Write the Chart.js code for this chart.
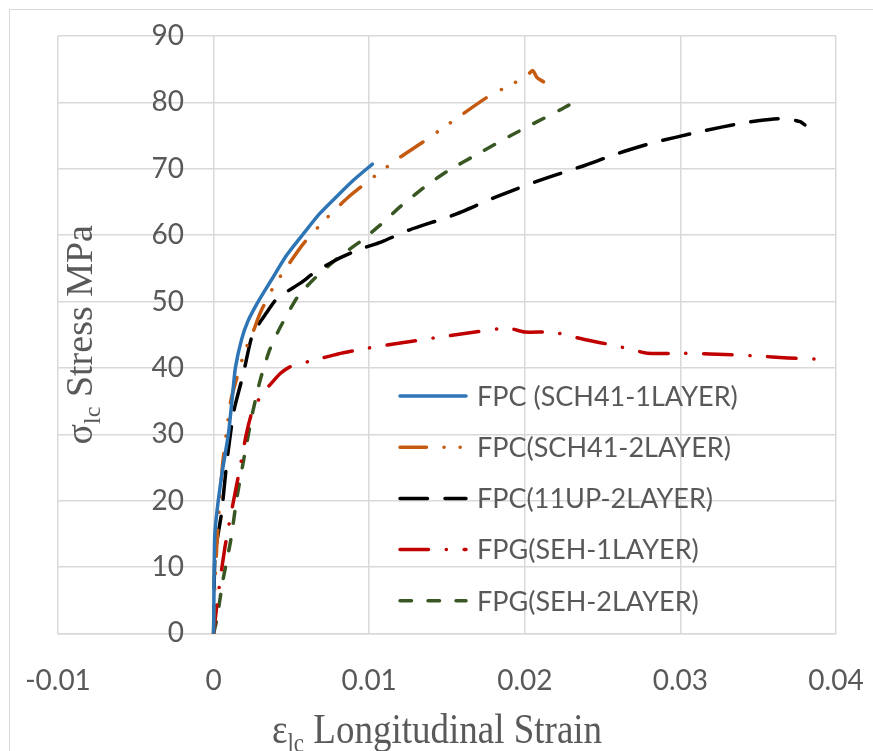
<!DOCTYPE html>
<html>
<head>
<meta charset="utf-8">
<script src="https://cdn.jsdelivr.net/npm/chart.js@4.4.0/dist/chart.umd.min.js"></script>
<style>
  html, body { margin: 0; padding: 0; background: #fff; }
  #wrap { position: relative; width: 873px; height: 751px; overflow: hidden; }
  #marco { position: absolute; left: 9px; top: 9px; width: 900px; height: 800px; border: 1px solid #d9d9d9; }
  canvas { position: absolute; left: 0; top: 0; }
</style>
</head>
<body>
<div id="wrap"><div id="marco"></div><canvas id="grafica" width="873" height="751"></canvas></div>
<script>
// Nombres de las series
const etiquetas = ['FPC (SCH41-1LAYER)', 'FPC(SCH41-2LAYER)', 'FPC(11UP-2LAYER)', 'FPG(SEH-1LAYER)', 'FPG(SEH-2LAYER)'];

// Deformación (x) y esfuerzo (y) por serie
const strain1 = [0, 0.00003, 0.00008, 0.0003, 0.0006, 0.00095, 0.0012, 0.0014, 0.0018, 0.0022, 0.0027, 0.0032, 0.0037, 0.0047, 0.0058, 0.0068, 0.0079, 0.009, 0.0102];
const stress1 = [0, 8, 15, 20, 25, 30, 35.5, 40, 44.3, 47, 49.3, 51.3, 53.2, 57, 60.3, 63.2, 65.8, 68.3, 70.7];

const strain2 = [0, 0.00005, 0.0002, 0.0004, 0.0006, 0.0011, 0.0015, 0.002, 0.0025, 0.003, 0.0038, 0.0047, 0.0058, 0.0072, 0.0086, 0.0102, 0.0119, 0.0135, 0.0152, 0.0176, 0.0193, 0.0201, 0.0205, 0.0208, 0.0212];
const stress2 = [0, 5, 13, 20, 26, 35, 38.5, 42.5, 45.2, 48.3, 52, 55.2, 58.8, 62.4, 65.6, 68.6, 71.6, 74.1, 76.9, 80.8, 82.9, 83.9, 84.8, 83.7, 83.1];

const strain3 = [0, 0.00003, 0.0001, 0.0005, 0.00086, 0.0013, 0.0019, 0.0025, 0.0034, 0.0041, 0.0056, 0.0065, 0.0079, 0.0093, 0.0108, 0.0126, 0.0154, 0.0182, 0.021, 0.0236, 0.0261, 0.0282, 0.0313, 0.034, 0.036, 0.0369, 0.0377, 0.038];
const stress3 = [0, 6, 12, 18, 26, 33.5, 39, 45, 48.3, 50.5, 52.8, 54.4, 56.3, 57.8, 59, 60.8, 63, 65.8, 68.3, 70.3, 72.4, 73.9, 75.6, 76.9, 77.5, 77.5, 77.1, 76.6];

const strain4 = [0, 0.0003, 0.00073, 0.0012, 0.0017, 0.0021, 0.0025, 0.003, 0.0035, 0.0043, 0.0051, 0.0062, 0.007, 0.008, 0.0095, 0.011, 0.013, 0.015, 0.0168, 0.0189, 0.02, 0.0218, 0.0229, 0.024, 0.0257, 0.0268, 0.0279, 0.03, 0.0319, 0.0349, 0.0369, 0.039];
const stress4 = [0, 6, 13, 19, 25, 30, 33.6, 35.6, 37.1, 39.2, 40.4, 41, 41.5, 42.1, 42.8, 43.4, 44.1, 44.8, 45.4, 46, 45.4, 45.4, 44.8, 44.2, 43.4, 42.8, 42.2, 42.2, 42.1, 41.8, 41.5, 41.3];

const strain5 = [0, 0.0002, 0.0006, 0.0011, 0.0015, 0.002, 0.0025, 0.003, 0.0036, 0.0043, 0.0054, 0.0065, 0.008, 0.0094, 0.0107, 0.012, 0.0137, 0.015, 0.0171, 0.0191, 0.0208, 0.0223, 0.0231, 0.0229];
const stress5 = [0, 2, 8, 14, 20.5, 27, 33.2, 38.2, 42.7, 46.2, 50.7, 53.5, 56.6, 59, 61.5, 64.3, 67.5, 69.6, 72.4, 75, 77.1, 78.9, 79.9, 79.2];

const colores = ['#2E75B6', '#C55A11', '#000000', '#C00000', '#385723'];
const trazos = [[], [26.5, 17.5, 0.1, 16, 0.1, 16.8], [27.5, 17.5], [28.5, 17.75, 0.1, 17.75], [11.5, 16.5]];

const puntos = (xs, ys) => xs.map((x, i) => ({ x: x, y: ys[i] }));
const series = [puntos(strain1, stress1), puntos(strain2, stress2), puntos(strain3, stress3), puntos(strain4, stress4), puntos(strain5, stress5)];

const GRIS = '#595959';
const REJILLA = '#d9d9d9';

// Leyenda dentro del área de la gráfica
const leyenda = {
    id: 'leyenda',
    afterDatasetsDraw(chart) {
        const ctx = chart.ctx;
        ctx.save();
        chart.data.datasets.forEach((ds, i) => {
            const y = 396 + i * 51.2;
            ctx.beginPath();
            ctx.setLineDash(ds.borderDash);
            ctx.lineCap = 'round';
            ctx.lineWidth = ds.borderWidth;
            ctx.strokeStyle = ds.borderColor;
            ctx.moveTo(400, y);
            ctx.lineTo(466, y);
            ctx.stroke();
            ctx.setLineDash([]);
            ctx.fillStyle = GRIS;
            ctx.font = '27px Lato';
            ctx.textBaseline = 'middle';
            ctx.textAlign = 'left';
            ctx.fillText(ds.label, 477, y + 1);
        });
        ctx.restore();
    }
};

// Texto con subíndice (símbolo + "lc" + resto)
function textoSub(ctx, simbolo, sub, resto, size) {
    const fMain = size + 'px "Liberation Serif"';
    const fSub = Math.round(size * 0.62) + 'px "Liberation Serif"';
    ctx.font = fMain;
    const w1 = ctx.measureText(simbolo).width;
    const w3 = ctx.measureText(resto).width;
    ctx.font = fSub;
    const w2 = ctx.measureText(sub).width;
    let x = -(w1 + w2 + w3) / 2;
    ctx.textAlign = 'left';
    ctx.textBaseline = 'alphabetic';
    ctx.font = fMain;
    ctx.fillText(simbolo, x, 0);
    x += w1;
    ctx.font = fSub;
    ctx.fillText(sub, x, size * 0.2);
    x += w2;
    ctx.font = fMain;
    ctx.fillText(resto, x, 0);
}

const titulos = {
    id: 'titulos',
    afterDraw(chart) {
        const { ctx, chartArea } = chart;
        ctx.save();
        ctx.fillStyle = GRIS;
        ctx.translate((chartArea.left + chartArea.right) / 2 - 10, 743);
        ctx.scale(1, 1.15);
        textoSub(ctx, 'ε', 'lc', ' Longitudinal Strain', 37);
        ctx.restore();

        ctx.save();
        ctx.fillStyle = GRIS;
        ctx.translate(92, (chartArea.top + chartArea.bottom) / 2);
        ctx.rotate(-Math.PI / 2);
        textoSub(ctx, 'σ', 'lc', ' Stress MPa', 38);
        ctx.restore();
    }
};

const ctx = document.getElementById('grafica').getContext('2d');

new Chart(ctx, {
    type: 'scatter',
    data: {
        datasets: series.map((d, i) => ({
            label: etiquetas[i],
            data: d,
            showLine: true,
            borderColor: colores[i],
            backgroundColor: colores[i],
            borderWidth: 3.5,
            borderDash: trazos[i],
            borderCapStyle: 'round',
            borderJoinStyle: 'round',
            pointRadius: 0,
            tension: 0.2,
            fill: false
        }))
    },
    options: {
        responsive: false,
        animation: false,
        devicePixelRatio: 1,
        layout: { padding: { left: 58, right: 37, top: 36, bottom: 53 } },
        plugins: {
            legend: { display: false },
            tooltip: { enabled: false },
            title: { display: false }
        },
        scales: {
            x: {
                type: 'linear',
                min: -0.01,
                max: 0.04,
                // marcas invisibles: solo separan las etiquetas del eje
                grid: { color: REJILLA, lineWidth: 1.5, drawTicks: true, tickLength: 31, tickColor: 'rgba(0,0,0,0)' },
                border: { color: REJILLA, width: 1.5 },
                ticks: {
                    stepSize: 0.01,
                    padding: 0,
                    maxRotation: 0,
                    color: GRIS,
                    font: { family: 'Lato', size: 28, lineHeight: 1.2 },
                    callback: v => String(Number(v.toFixed(2)))
                }
            },
            y: {
                type: 'linear',
                position: { x: -0.0019 },
                min: 0,
                max: 90,
                afterFit: s => { s.width = 0; },
                grid: { color: REJILLA, lineWidth: 1.5, drawTicks: false },
                border: { display: false },
                ticks: {
                    stepSize: 10,
                    padding: 0,
                    color: GRIS,
                    font: { family: 'Lato', size: 28, lineHeight: 1.2 }
                }
            }
        }
    },
    plugins: [leyenda, titulos]
});
</script>
</body>
</html>
